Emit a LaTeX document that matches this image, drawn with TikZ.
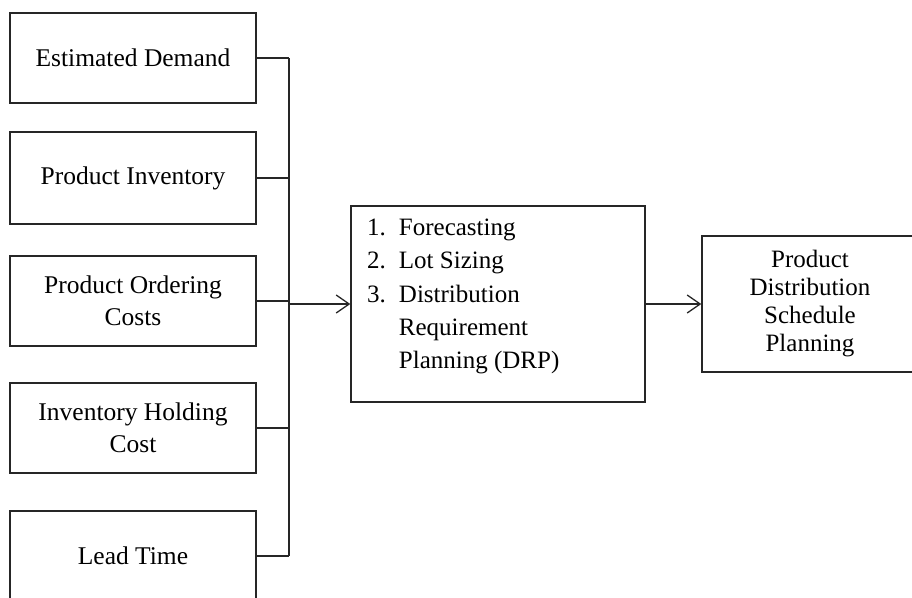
\documentclass[tikz,border=0pt]{standalone}
\usepackage{fontspec}
\setmainfont{Liberation Serif}
\usetikzlibrary{arrows.meta}
\begin{document}
\begin{tikzpicture}[x=1pt,y=-1pt,
  box/.style={draw=black!85,line width=1.4pt,rectangle,inner sep=0pt,align=center,
    font=\fontsize{25.5}{32}\selectfont},
  conn/.style={draw=black!85,line width=1.4pt},
  arr/.style={conn,-{Straight Barb[length=13pt,width=18pt,line width=1.3pt]}}]
\useasboundingbox (0,0) rectangle (912,597);
\clip (0,0) rectangle (912,597);
% left boxes
\node[box,minimum width=246pt,minimum height=90pt] (b1) at (133,58) {Estimated Demand};
\node[box,minimum width=246pt,minimum height=92pt] (b2) at (133,178) {Product Inventory};
\node[box,minimum width=246pt,minimum height=90pt] (b3) at (133,301) {Product Ordering\\Costs};
\node[box,minimum width=246pt,minimum height=90pt] (b4) at (133,428) {Inventory Holding\\Cost};
\node[box,minimum width=246pt,minimum height=90pt] (b5) at (133,556) {Lead Time};
% center box
\node[draw=black!85,line width=1.4pt,minimum width=294pt,minimum height=196pt,inner sep=0pt] (c) at (498,304) {};
\node[anchor=north west,inner sep=0pt,font=\fontsize{25}{33.3}\selectfont] (clist) at (367,212)
  {\begin{tabular}{@{}r@{\hspace{13pt}}l@{}}
   1. & Forecasting\\
   2. & Lot Sizing\\
   3. & Distribution\\
      & Requirement\\
      & Planning (DRP)
   \end{tabular}};
% right box
\node[box,font=\fontsize{25}{28}\selectfont,minimum width=216pt,minimum height=136pt] (r) at (810,304)
  {Product\\Distribution\\Schedule\\Planning};
% bus
\coordinate (bt) at (289,56);
\coordinate (bb) at (289,556);
\draw[conn] (b1.east) -- (b1.east -| bt);
\draw[conn] (b2.east) -- (b2.east -| bt);
\draw[conn] (b3.east) -- (b3.east -| bt);
\draw[conn] (b4.east) -- (b4.east -| bt);
\draw[conn] (b5.east) -- (b5.east -| bt);
\draw[conn] (b1.east -| bt) -- (b5.east -| bt);
\draw[arr] (c.west -| bt) -- (c.west);
\draw[arr] (c.east) -- (r.west);
\end{tikzpicture}
\end{document}
